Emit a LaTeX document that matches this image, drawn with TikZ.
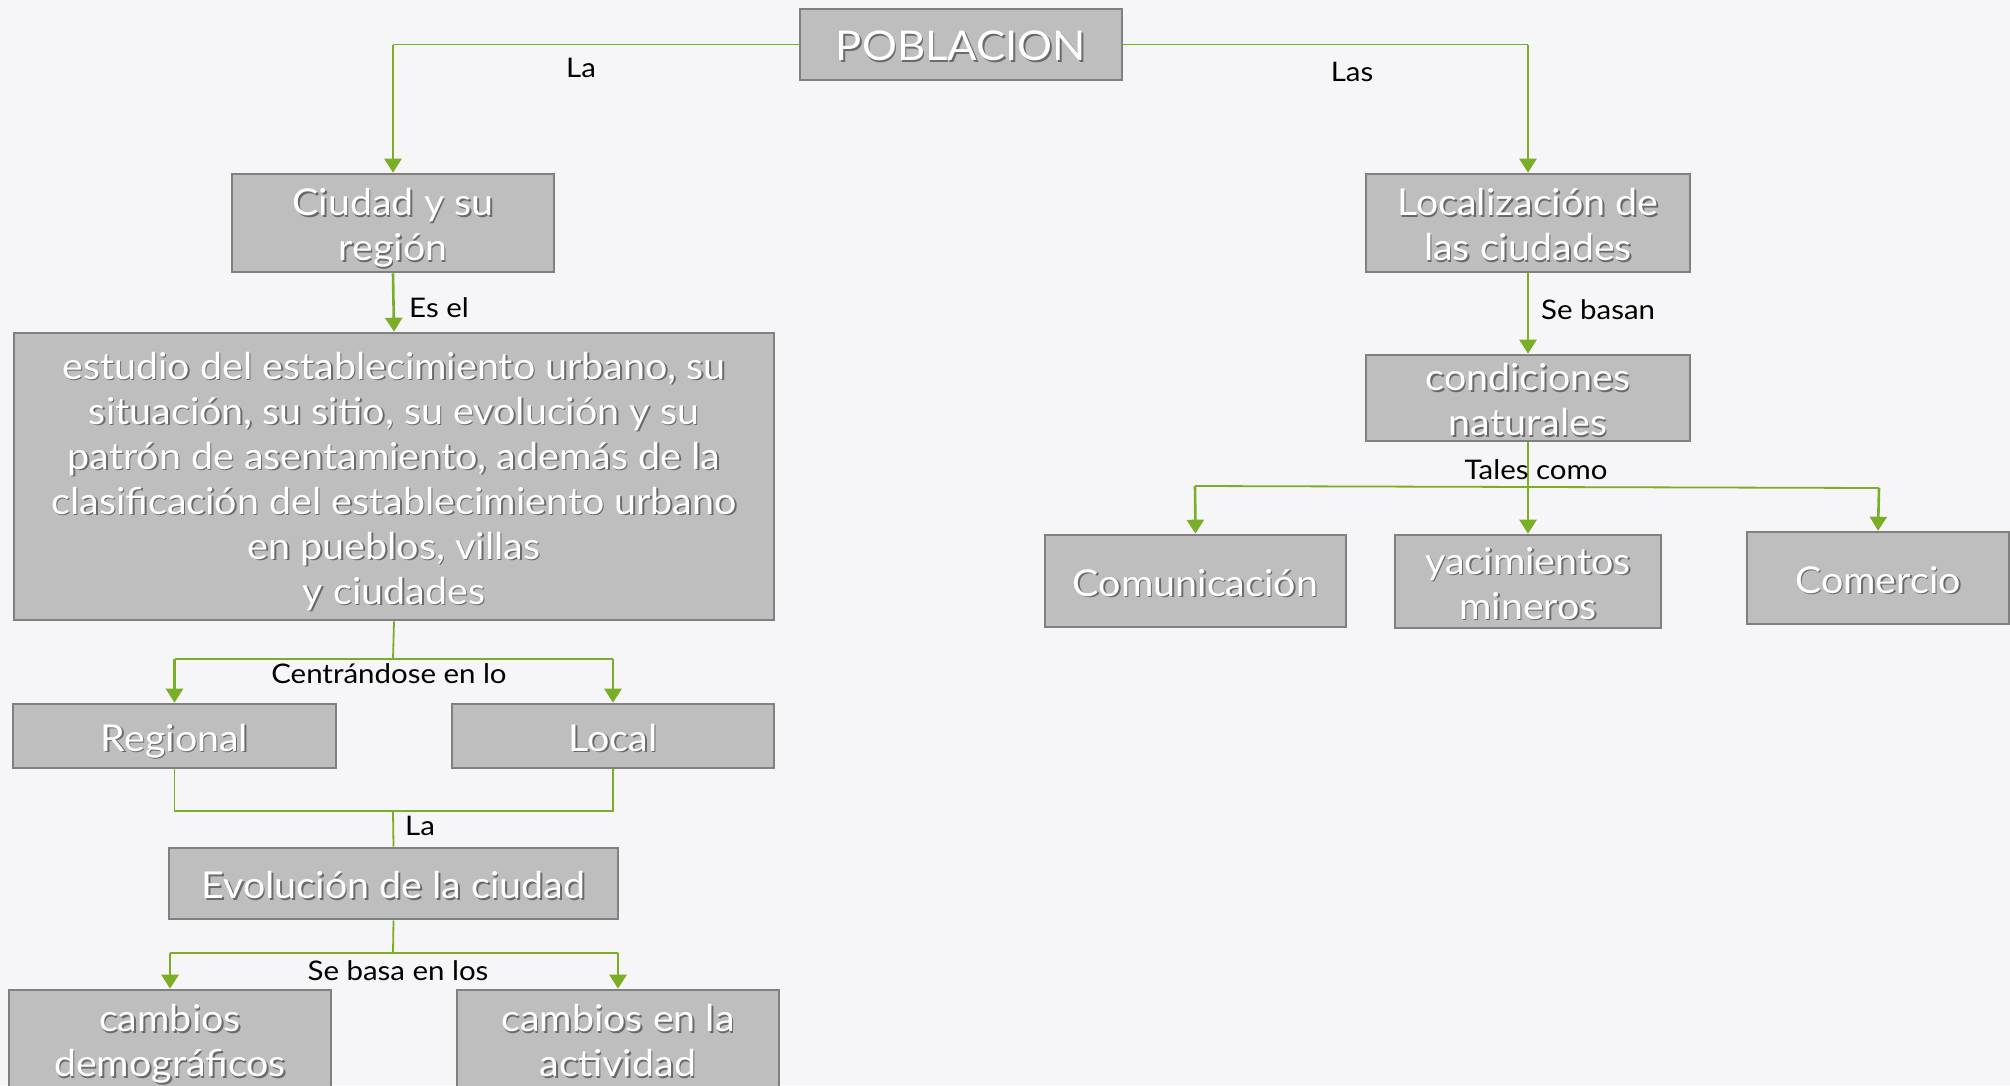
\documentclass[tikz,border=0pt]{standalone}
\usepackage{fontspec}
\setmainfont{Lato}[FakeStretch=1.065]
\newfontfamily\lblfont{Lato}[FakeStretch=1.09]
\usetikzlibrary{arrows.meta}
\definecolor{bg}{HTML}{F6F6F8}
\definecolor{boxfill}{HTML}{BEBEBE}
\definecolor{boxline}{HTML}{808080}
\definecolor{grn}{HTML}{7AAF25}
\definecolor{shcol}{HTML}{6A6A6A}
\newcommand\cbox[7]{%
  \node[boxst, minimum width=#4pt, minimum height=#5pt] (#1) at (#2,#3) {};
  \node[#6, text=shcol] at ([shift={(1.6,6.6)}]#1.center) {#7\vphantom{gy}};
  \node[#6, text=white] at ([shift={(0,5)}]#1.center) {#7\vphantom{gy}};
}
\tikzset{
  boxst/.style={draw=boxline, fill=boxfill, line width=2.6pt, inner sep=0pt},
  bigt/.style={font=\fontsize{41}{50}\selectfont, align=center, inner sep=0pt},
  midt/.style={font=\fontsize{37}{45}\selectfont, align=center, inner sep=0pt},
  lbl/.style={font=\lblfont\fontsize{27}{32}\selectfont, text=black, inner sep=0pt},
  arr/.style={draw=grn, line width=2.6pt, -{Triangle[length=14pt,width=17pt]}},
  ln/.style={draw=grn, line width=1.8pt},
}
\begin{document}
\begin{tikzpicture}[x=1pt,y=-1pt]
\fill[bg] (0,0) rectangle (2010,1085);
\useasboundingbox (0,0) rectangle (2010,1085);

% boxes
\cbox{pob}{961}{44.5}{322}{71}{bigt}{POBLACION}
\cbox{ciudad}{393}{223}{322}{98}{midt}{Ciudad y su\\región}
\cbox{loc}{1528}{223}{324}{98}{midt}{Localización de\\las ciudades}
\cbox{est}{394}{476.5}{760}{287}{midt}{estudio del establecimiento urbano, su\\situación, su sitio, su evolución y su\\patrón de asentamiento, además de la\\clasificación del establecimiento urbano\\en pueblos, villas\\y ciudades}
\cbox{cond}{1528}{398}{324}{86}{midt}{condiciones\\naturales}
\cbox{comu}{1195.5}{581}{301}{92}{midt}{Comunicación}
\cbox{yac}{1528}{581.5}{266}{93}{midt}{yacimientos\\mineros}
\cbox{com}{1878}{578}{262}{92}{midt}{Comercio}
\cbox{reg}{174.5}{736}{323}{64}{midt}{Regional}
\cbox{local}{613}{736}{322}{64}{midt}{Local}
\cbox{evol}{393.5}{883.5}{449}{71}{midt}{Evolución de la ciudad}
\cbox{cdem}{170}{1039}{322}{98}{midt}{cambios\\demográficos}
\cbox{cact}{618}{1039}{322}{98}{midt}{cambios en la\\actividad}

% top connectors
\draw[ln] (pob.west) -- (ciudad.north |- pob.west);
\draw[arr] (ciudad.north |- pob.west) -- (ciudad.north);
\draw[ln] (pob.east) -- (loc.north |- pob.east);
\draw[arr] (loc.north |- pob.east) -- (loc.north);
\node[lbl] (tLa) at (581,68) {La};
\node[lbl] (tLas) at (1352,72) {Las};

\draw[arr] (ciudad.south) -- (est.north);
\node[lbl, anchor=west] (tEs) at (409,308) {Es el};

\draw[arr] (loc.south) -- (cond.north);
\node[lbl, anchor=west] (tSe) at (1541,310) {Se basan};

% tales como
\coordinate (tl) at (1195,486);
\coordinate (tr) at (1879,488);
\draw[ln] (tl) -- (tr);
\draw[arr] (cond.south) -- (yac.north);
\draw[arr] (tl) -- (comu.north);
\draw[arr] (tr) -- (com.north);
\node[lbl] (tTal) at (1536,470) {Tales como};

% centrandose
\coordinate (c1) at (393,659);
\draw[ln] (est.south) -- (c1);
\draw[ln] (reg.north |- c1) -- (local.north |- c1);
\draw[arr] (reg.north |- c1) -- (reg.north);
\draw[arr] (local.north |- c1) -- (local.north);
\node[lbl] (tCen) at (389,674) {Centrándose en lo};

% la evolucion
\coordinate (c2) at (393,811);
\draw[ln] (reg.south) -- (reg.south |- c2) -- (local.south |- c2) -- (local.south);
\draw[ln] (c2) -- (evol.north);
\node[lbl, anchor=west] (tLa2) at (405,826) {La};

% se basa en los
\coordinate (c3) at (393,953);
\draw[ln] (evol.south) -- (c3);
\draw[ln] (cdem.north |- c3) -- (cact.north |- c3);
\draw[arr] (cdem.north |- c3) -- (cdem.north);
\draw[arr] (cact.north |- c3) -- (cact.north);
\node[lbl] (tSeb) at (398,971) {Se basa en los};
\end{tikzpicture}
\end{document}
